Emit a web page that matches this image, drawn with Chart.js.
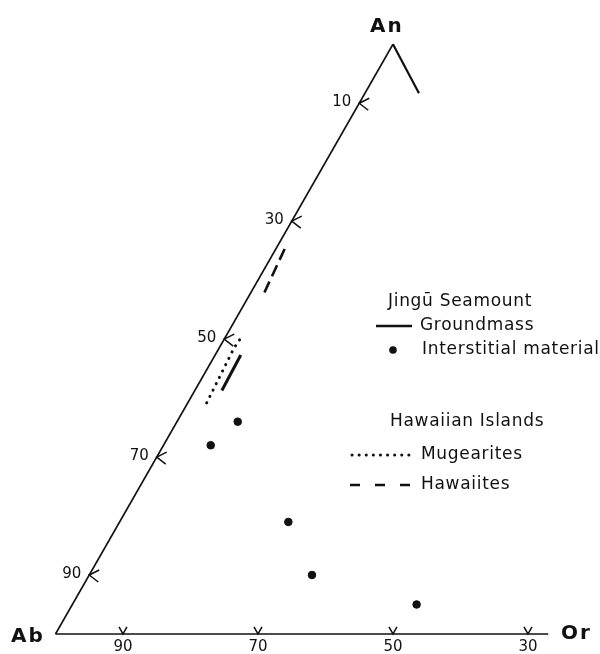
<!DOCTYPE html>
<html>
<head>
<meta charset="utf-8">
<script src="https://cdn.jsdelivr.net/npm/chart.js@4"></script>
<style>
  html, body { margin: 0; padding: 0; background: #fff; }
  #wrap { width: 600px; height: 654px; }
</style>
</head>
<body>
<div id="wrap"><canvas id="feldspar"></canvas></div>
<script>
// tick labels are Ab % on the Ab-An side and on the Ab-Or side
const leftTicks = [10, 30, 50, 70, 90];
const bottomTicks = [90, 70, 50, 30];

// Jingu Seamount - interstitial material (mol %)
const interstitialAn = [32, 36, 19, 10, 5];
const interstitialOr = [7, 9, 25, 33, 51];

// Jingu Seamount - groundmass trend
const groundmassAn = [41.3, 47.3];
const groundmassOr = [4.0, 3.8];

// Hawaiian Islands
const mugearitesAn = [39.2, 48.5, 50.6];
const mugearitesOr = [2.8, 2.2, 2.4];
const hawaiitesAn = [57.9, 65.4];
const hawaiitesOr = [2.0, 1.3];

// parts of the triangle that are drawn
const leftEdgeAn = [0, 100], leftEdgeOr = [0, 0];
const rightEdgeAn = [100, 91.7], rightEdgeOr = [0, 8.0];
const baseEdgeAn = [0, 0], baseEdgeOr = [0, 73];

const SQ3 = Math.sqrt(3) / 2;
function tern(an, or) {
    return {x: or + an / 2, y: an * SQ3};
}
function toPoints(an, or) {
    return an.map((v, i) => tern(v, or[i]));
}

const INK = '#111';
const FONT = '"DejaVu Sans", "Liberation Sans", sans-serif';

function lineSet(an, or, width, dash) {
    return {
        data: toPoints(an, or),
        showLine: true,
        borderColor: INK,
        borderWidth: width,
        borderDash: dash || [],
        borderCapStyle: dash && dash[0] < 1 ? 'round' : 'butt',
        pointRadius: 0,
        fill: false,
        clip: false
    };
}

const decorations = {
    id: 'decorations',
    afterDatasetsDraw(chart) {
        const {ctx, scales: {x, y}} = chart;
        const px = (an, or) => {
            const p = tern(an, or);
            return [x.getPixelForValue(p.x), y.getPixelForValue(p.y)];
        };
        ctx.save();
        ctx.strokeStyle = INK;
        ctx.fillStyle = INK;
        ctx.lineWidth = 1.5;

        // arrow ticks on the Ab-An side
        ctx.font = '15px ' + FONT;
        ctx.textAlign = 'right';
        ctx.textBaseline = 'middle';
        leftTicks.forEach(a => {
            const [tx, ty] = px(100 - a, 0);
            ctx.beginPath();
            ctx.moveTo(tx + 10, ty - 5);
            ctx.lineTo(tx, ty);
            ctx.lineTo(tx + 9, ty + 7);
            ctx.stroke();
            ctx.fillText(String(a), tx - 8, ty - 1);
        });

        // arrow ticks on the Ab-Or side
        ctx.textAlign = 'center';
        bottomTicks.forEach(a => {
            const [tx, ty] = px(0, 100 - a);
            ctx.beginPath();
            ctx.moveTo(tx - 4, ty - 7);
            ctx.lineTo(tx, ty);
            ctx.lineTo(tx + 4, ty - 7);
            ctx.stroke();
            ctx.fillText(String(a), tx, ty + 13);
        });

        // corner labels
        ctx.font = 'bold 20px ' + FONT;
        ctx.textBaseline = 'alphabetic';
        ctx.letterSpacing = '2px';
        ctx.textAlign = 'left';
        ctx.fillText('Ab', 11, 642);
        ctx.fillText('An', 370, 32);
        ctx.fillText('Or', 561, 639);

        // legend
        ctx.font = '17px ' + FONT;
        ctx.letterSpacing = '0.7px';
        ctx.textBaseline = 'middle';
        ctx.fillText('Jingū Seamount', 388, 302);
        ctx.fillText('Groundmass', 420, 326);
        ctx.fillText('Interstitial material', 422, 350);
        ctx.fillText('Hawaiian Islands', 390, 422);
        ctx.fillText('Mugearites', 421, 455);
        ctx.fillText('Hawaiites', 421, 485);
        ctx.letterSpacing = '0px';

        ctx.lineWidth = 2.5;
        ctx.beginPath();
        ctx.moveTo(376, 326);
        ctx.lineTo(412, 326);
        ctx.stroke();

        ctx.beginPath();
        ctx.arc(393, 350, 3.8, 0, Math.PI * 2);
        ctx.fill();

        ctx.lineCap = 'round';
        ctx.lineWidth = 3;
        ctx.setLineDash([0.1, 7]);
        ctx.beginPath();
        ctx.moveTo(352, 455);
        ctx.lineTo(411, 455);
        ctx.stroke();

        ctx.lineCap = 'butt';
        ctx.lineWidth = 2.5;
        ctx.setLineDash([10, 15]);
        ctx.beginPath();
        ctx.moveTo(350, 485);
        ctx.lineTo(410, 485);
        ctx.stroke();
        ctx.restore();
    }
};

new Chart(document.getElementById('feldspar'), {
    type: 'scatter',
    data: {
        datasets: [
            lineSet(leftEdgeAn, leftEdgeOr, 1.6),
            lineSet(rightEdgeAn, rightEdgeOr, 2.2),
            lineSet(baseEdgeAn, baseEdgeOr, 1.6),
            lineSet(groundmassAn, groundmassOr, 3),
            lineSet(mugearitesAn, mugearitesOr, 3, [0.1, 7]),
            lineSet(hawaiitesAn, hawaiitesOr, 2.6, [12, 6]),
            {
                data: toPoints(interstitialAn, interstitialOr),
                backgroundColor: INK,
                borderColor: INK,
                pointRadius: 3.8,
                showLine: false,
                clip: false
            }
        ]
    },
    options: {
        responsive: true,
        maintainAspectRatio: false,
        animation: false,
        layout: {padding: 0, autoPadding: false},
        plugins: {legend: {display: false}, tooltip: {enabled: false}},
        scales: {
            x: {type: 'linear', display: false, min: -8.22, max: 80.67},
            y: {type: 'linear', display: false, min: -2.94, max: 93.1}
        }
    },
    plugins: [decorations]
});
</script>
</body>
</html>
